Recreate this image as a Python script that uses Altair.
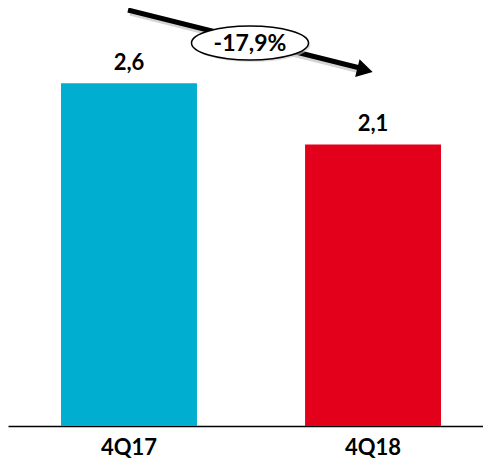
import altair as alt
import pandas as pd

categories = ["4Q17", "4Q18"]
values = [2.6, 2.135]
value_labels = ["2,6", "2,1"]
colors = ["#00AECF", "#E2001A"]
change_label = ["-17,9%"]

df = pd.DataFrame({"cat": categories, "val": values, "lab": value_labels, "col": colors})

FONT = "Lato"
FS = 22

x = alt.X("cat:N", sort=categories,
          scale=alt.Scale(paddingInner=0.443, paddingOuter=0.1947, align=0.558),
          axis=alt.Axis(title=None, labelAngle=0, ticks=False, grid=False,
                        domainColor="#000000", domainWidth=1.5,
                        labelFont=FONT, labelFontSize=FS, labelFontWeight="bold",
                        labelColor="#000000", labelPadding=11))
y = alt.Y("val:Q", scale=alt.Scale(domain=[0, 3.17], nice=False), axis=None)

base = alt.Chart(df)
bars = base.mark_bar().encode(x=x, y=y, color=alt.Color("col:N", scale=None))
labels = base.mark_text(font=FONT, fontSize=FS, fontWeight="bold", dy=-13,
                        baseline="alphabetic", color="#000000").encode(
    x=alt.X("cat:N", sort=categories), y="val:Q", text="lab:N")

ann = pd.DataFrame({"t": change_label})
a = alt.Chart(ann)
shadow = a.mark_rule(color="#aaaaaa", strokeWidth=5, opacity=0.5).encode(
    x=alt.value(122), y=alt.value(5), x2=alt.value(356), y2=alt.value(64))
line = a.mark_rule(color="#000000", strokeWidth=5).encode(
    x=alt.value(120), y=alt.value(2), x2=alt.value(352), y2=alt.value(60))
head = a.mark_point(shape="triangle-right", filled=True, color="#000000",
                    size=330, opacity=1, angle=14).encode(
    x=alt.value(357), y=alt.value(62))
ell_path = "M-1,0A1,0.29 0 1,0 1,0A1,0.29 0 1,0 -1,0Z"
ell_shadow = a.mark_point(shape=ell_path, filled=True, fill="#cccccc", strokeWidth=0,
                          size=117 * 117, opacity=0.6).encode(
    x=alt.value(244), y=alt.value(37))
ellipse = a.mark_point(shape=ell_path, filled=True, fill="#ffffff", stroke="#000000",
                       strokeWidth=1.5, size=117 * 117, opacity=1).encode(
    x=alt.value(242), y=alt.value(35))
txt = a.mark_text(font=FONT, fontSize=23, fontWeight="bold", color="#000000",
                  baseline="middle").encode(
    x=alt.value(242), y=alt.value(36), text="t:N")

chart = alt.layer(bars, labels, shadow, line, head, ell_shadow, ellipse, txt).properties(
    width=475, height=418,
    autosize=alt.AutoSizeParams(type="none"),
    padding={"left": 0, "top": 0, "right": 0, "bottom": 34},
).configure_view(stroke=None)

chart.save("out.html", embed_options={"renderer": "svg", "actions": False})
